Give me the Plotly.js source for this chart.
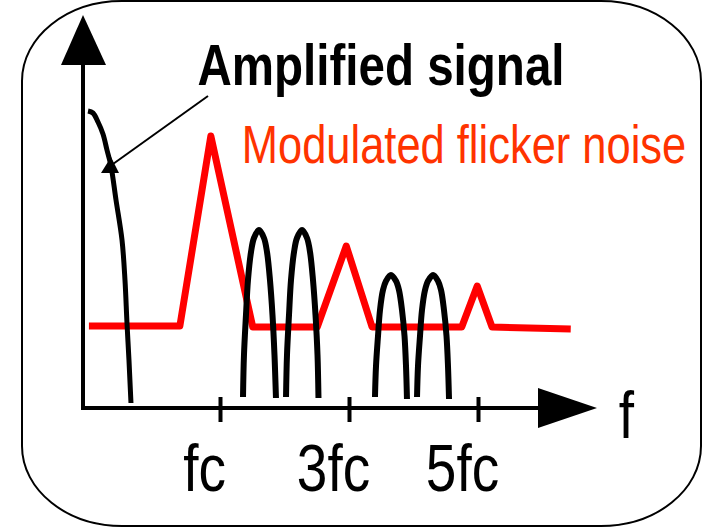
<!DOCTYPE html>
<html>
<head>
<meta charset="utf-8">
<script src="https://cdn.plot.ly/plotly-3.0.1.min.js"></script>
<style>html,body{margin:0;padding:0;background:#fff;}#chart{width:713px;height:532px;}</style>
</head>
<body>
<div id="chart"></div>
<script>
// ---- data (x in units of fc, y in arbitrary amplitude units) ----
const tickVals = [1, 3, 5];
const tickText = ['fc', '3fc', '5fc'];

const noiseF = [-1.04, 0.37, 0.85, 1.50, 2.50, 2.95, 3.35, 4.74, 4.98, 5.21, 6.43];
const noiseA = [20.5, 20.5, 68, 20.25, 20.25, 40.5, 20.25, 20.25, 30.5, 20.25, 19.75];

const sigDcF = [-1.054, -0.977, -0.899, -0.822, -0.760, -0.698, -0.620, -0.527, -0.481, -0.450, -0.419, -0.388];
const sigDcA = [74.25, 73.75, 71.5, 68.5, 64.5, 60.5, 52, 42, 32, 21.25, 12, 1.25];

const arch1F = [1.349, 1.364, 1.395, 1.426, 1.473, 1.519, 1.597, 1.674, 1.721, 1.767, 1.806, 1.837, 1.860];
const arch1A = [2.75, 13.25, 23.25, 32, 39, 42.5, 44.5, 42.5, 39, 32, 23.25, 13.25, 2.5];
const arch2F = [2.016, 2.031, 2.062, 2.093, 2.140, 2.186, 2.264, 2.341, 2.388, 2.434, 2.473, 2.504, 2.519];
const arch2A = [2.75, 13.25, 23.25, 32, 39, 42.5, 44.5, 42.5, 39, 32, 23.25, 13.25, 2.5];
const arch3F = [3.395, 3.411, 3.442, 3.473, 3.519, 3.566, 3.643, 3.721, 3.767, 3.814, 3.853, 3.876, 3.891];
const arch3A = [2.75, 10.5, 18, 24.5, 29.5, 31.75, 33.25, 31.75, 29.5, 24.5, 18, 10.5, 2.25];
const arch4F = [4.047, 4.062, 4.093, 4.124, 4.171, 4.217, 4.295, 4.372, 4.419, 4.465, 4.504, 4.527, 4.543];
const arch4A = [2.75, 10.5, 18, 24.5, 29.5, 31.75, 33.25, 31.75, 29.5, 24.5, 18, 10.5, 2.25];

const labelSignal = 'Amplified signal';
const labelNoise = 'Modulated flicker noise';
const labelAxis = 'f';

// ---- layout geometry ----
const W = 713, H = 532;
const X0PX = 156, XUNIT = 64.5;   // pixel of f=0, pixels per fc
const Y0PX = 408, YUNIT = 4;      // pixel of amplitude 0, pixels per unit
const fx = px => (px - X0PX) / XUNIT;
const fy = py => (Y0PX - py) / YUNIT;
const originF = fx(83);

const FONT = "'Liberation Sans', Arial, sans-serif";
const NARROW_RATIO = 0.82;  // Arial Narrow width relative to Arial / Liberation Sans
const RED = '#ff0000';
const TEXTRED = '#ff3300';

function line(xs, ys, color, width) {
  return {x: xs, y: ys, type: 'scatter', mode: 'lines', hoverinfo: 'skip',
          line: {color: color, width: width, shape: 'spline', smoothing: 1}, cliponaxis: false};
}

const traces = [
  {x: noiseF, y: noiseA, type: 'scatter', mode: 'lines', hoverinfo: 'skip',
   line: {color: RED, width: 7}, cliponaxis: false},
  line(sigDcF, sigDcA, '#000', 5),
  line(arch1F, arch1A, '#000', 6),
  line(arch2F, arch2A, '#000', 6),
  line(arch3F, arch3A, '#000', 6),
  line(arch4F, arch4A, '#000', 6)
];

// rounded frame in paper coords
function P(px, py) { return (px / W).toFixed(5) + ',' + (1 - py / H).toFixed(5); }
const L = 22, R = 701, T = 1, B = 526, rx = 100, ry = 80, k = 0.5523;
const framePath =
  'M' + P(L + rx, T) + ' L' + P(R - rx, T) +
  ' C' + P(R - rx + k * rx, T) + ' ' + P(R, T + ry - k * ry) + ' ' + P(R, T + ry) +
  ' L' + P(R, B - ry) +
  ' C' + P(R, B - ry + k * ry) + ' ' + P(R - rx + k * rx, B) + ' ' + P(R - rx, B) +
  ' L' + P(L + rx, B) +
  ' C' + P(L + rx - k * rx, B) + ' ' + P(L, B - ry + k * ry) + ' ' + P(L, B - ry) +
  ' L' + P(L, T + ry) +
  ' C' + P(L, T + ry - k * ry) + ' ' + P(L + rx - k * rx, T) + ' ' + P(L + rx, T) + ' Z';

function D(px, py) { return fx(px).toFixed(4) + ',' + fy(py).toFixed(3); }

const shapes = [
  {type: 'path', xref: 'paper', yref: 'paper', path: framePath, line: {color: '#000', width: 2}},
  // vertical axis
  {type: 'line', xref: 'x', yref: 'y', x0: originF, x1: originF, y0: fy(410), y1: fy(64), line: {color: '#000', width: 4}},
  {type: 'path', xref: 'x', yref: 'y', path: 'M' + D(61, 65) + ' L' + D(83, 15) + ' L' + D(106, 65) + ' Z',
   fillcolor: '#000', line: {width: 0}},
  // horizontal axis
  {type: 'line', xref: 'x', yref: 'y', x0: fx(81), x1: fx(540), y0: 0, y1: 0, line: {color: '#000', width: 4}},
  {type: 'path', xref: 'x', yref: 'y', path: 'M' + D(538, 388) + ' L' + D(597, 408) + ' L' + D(538, 428) + ' Z',
   fillcolor: '#000', line: {width: 0}},
  // pointer
  {type: 'line', xref: 'x', yref: 'y', x0: fx(208), y0: fy(96), x1: fx(113), y1: fy(164), line: {color: '#000', width: 2}},
  {type: 'path', xref: 'x', yref: 'y', path: 'M' + D(101, 173) + ' L' + D(111, 157) + ' L' + D(119, 173) + ' Z',
   fillcolor: '#000', line: {width: 0}}
];
tickVals.forEach(v => shapes.push({type: 'line', xref: 'x', yref: 'y', x0: v, x1: v, y0: fy(422), y1: fy(397),
  line: {color: '#000', width: 4}}));

const annotations = [
  {xref: 'paper', yref: 'paper', x: 381 / W, y: 1 - 65 / H, xanchor: 'center', yanchor: 'middle', showarrow: false,
   text: labelSignal, font: {family: FONT, size: 58, color: '#000', weight: 'bold'}},
  {xref: 'paper', yref: 'paper', x: 464 / W, y: 1 - 144 / H, xanchor: 'center', yanchor: 'middle', showarrow: false,
   text: labelNoise, font: {family: FONT, size: 53, color: TEXTRED}},
  {xref: 'paper', yref: 'paper', x: 626 / W, y: 1 - 414 / H, xanchor: 'center', yanchor: 'middle', showarrow: false,
   text: labelAxis, font: {family: FONT, size: 67, color: '#000'}}
];

const layout = {
  width: W, height: H,
  margin: {l: 0, r: 0, t: 0, b: 0, pad: 0},
  paper_bgcolor: '#fff', plot_bgcolor: '#fff',
  showlegend: false,
  xaxis: {range: [fx(0), fx(W)], anchor: 'free', position: 1 - Y0PX / H,
          showgrid: false, zeroline: false, showline: false, ticks: '',
          tickmode: 'array', tickvals: tickVals, ticktext: tickText,
          tickfont: {family: FONT, size: 67, color: '#000'},
          ticklabelshift: -16, ticklabelstandoff: 15, fixedrange: true},
  yaxis: {range: [fy(H), fy(0)], visible: false, fixedrange: true},
  shapes: shapes,
  annotations: annotations
};

function condense(gd) {
  // emulate the narrow typeface of the original (no narrow font installed):
  // squeeze each label horizontally about its own centre
  gd.querySelectorAll('.annotation-text, .xtick text').forEach(t => {
    const bb = t.getBBox();
    if (!(bb.width > 0)) return;
    const cx = bb.x + bb.width / 2;
    const prev = t.getAttribute('transform') || '';
    t.setAttribute('transform', (prev + ' translate(' + cx + ',0) scale(' + NARROW_RATIO + ',1) translate(' + (-cx) + ',0)').trim());
    const ann = t.closest('.annotation');
    if (ann) {
      const bg = ann.querySelector('rect.bg');
      if (bg) {
        const bw = parseFloat(bg.getAttribute('width'));
        const bx = parseFloat(bg.getAttribute('x') || '0');
        const shrink = bb.width * (1 - NARROW_RATIO);
        bg.setAttribute('width', (bw - shrink).toFixed(1));
        bg.setAttribute('x', (bx + shrink / 2).toFixed(1));
      }
    }
  });
}

function styleJoins(gd) {
  gd.querySelectorAll('.scatterlayer path.js-line').forEach(p => {
    p.setAttribute('stroke-linejoin', 'round');
    p.style.strokeLinejoin = 'round';
  });
}

Plotly.newPlot('chart', traces, layout, {displayModeBar: false, staticPlot: true}).then(gd => {
  condense(gd);
  styleJoins(gd);
});
</script>
</body>
</html>
